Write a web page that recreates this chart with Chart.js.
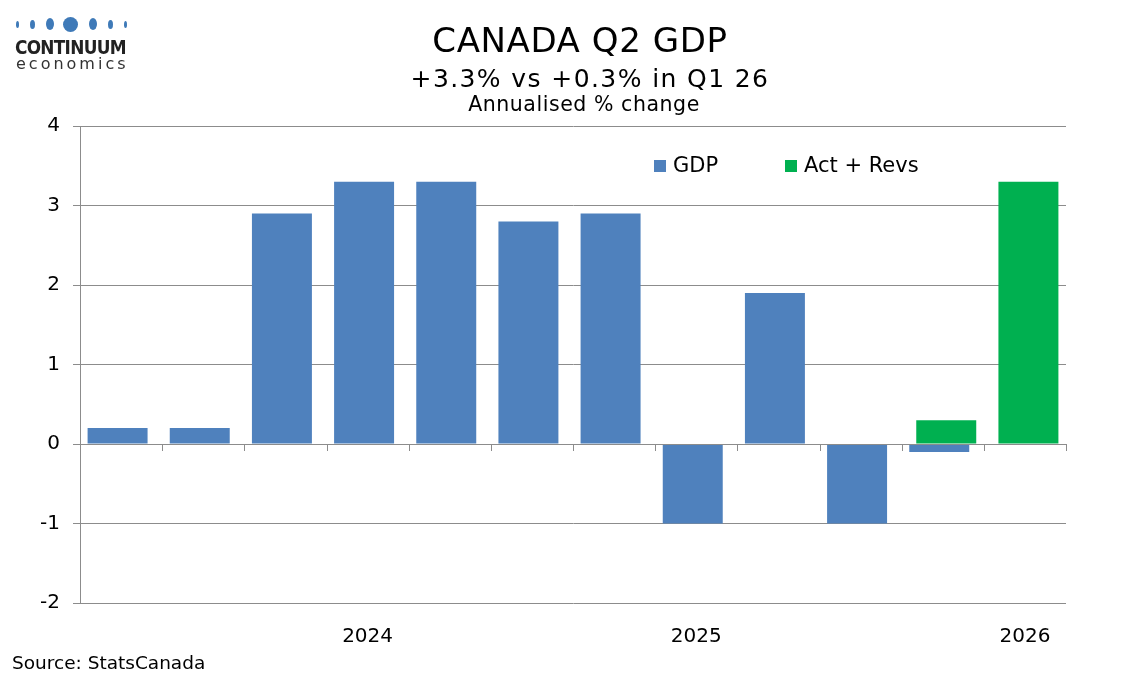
<!DOCTYPE html>
<html>
<head>
<meta charset="utf-8">
<script src="https://cdn.jsdelivr.net/npm/chart.js@4/dist/chart.umd.min.js"></script>
<style>
  html, body { margin: 0; padding: 0; background: #fff; }
  body { width: 1134px; height: 680px; position: relative; overflow: hidden; font-family: "DejaVu Sans", Verdana, sans-serif; }
  #wrap { position: absolute; left: 0; top: 0; width: 1134px; height: 680px; }
  .txt { position: absolute; white-space: nowrap; color: #000; }
  .dot { position: absolute; background: #3f7ab8; border-radius: 50%; }
</style>
</head>
<body>
<div id="wrap"><canvas id="chart" width="1134" height="680"></canvas></div>

<!-- logo -->
<div class="dot" style="left:16px;top:21px;width:3px;height:7px;"></div>
<div class="dot" style="left:30px;top:20px;width:5px;height:9px;"></div>
<div class="dot" style="left:46px;top:18px;width:8px;height:12px;"></div>
<div class="dot" style="left:63px;top:17px;width:15px;height:15px;"></div>
<div class="dot" style="left:89px;top:18px;width:8px;height:12px;"></div>
<div class="dot" style="left:108px;top:20px;width:5px;height:9px;"></div>
<div class="dot" style="left:124px;top:21px;width:3px;height:7px;"></div>
<div class="txt" style="left:15px;top:36px;font-size:19px;font-weight:bold;letter-spacing:-0.8px;color:#222;transform:scaleX(0.89);transform-origin:left top;">CONTINUUM</div>
<div class="txt" style="left:16px;top:54px;font-size:16px;letter-spacing:3px;color:#333;">economics</div>

<!-- titles -->
<div class="txt" style="left:0;width:1160px;text-align:center;top:20px;font-size:34px;letter-spacing:0.6px;">CANADA Q2 GDP</div>
<div class="txt" style="left:0;width:1180px;text-align:center;top:64px;font-size:25px;letter-spacing:1.4px;">+3.3% vs +0.3% in Q1 26</div>
<div class="txt" style="left:0;width:1168px;text-align:center;top:92px;font-size:20.5px;letter-spacing:0.55px;">Annualised % change</div>
<div class="txt" style="left:12px;top:652px;font-size:18.5px;">Source: StatsCanada</div>

<script>
// Data
const categories = ['Q2 23', 'Q3 23', 'Q4 23', 'Q1 24', 'Q2 24', 'Q3 24', 'Q4 24', 'Q1 25', 'Q2 25', 'Q3 25', 'Q4 25', 'Q1 26'];
const tickLabels = ['', '', '', '2024', '', '', '', '2025', '', '', '', '2026'];
const gdpValues = [0.2, 0.2, 2.9, 3.3, 3.3, 2.8, 2.9, -1.0, 1.9, -1.0, -0.1, null];
const actRevValues = [null, null, null, null, null, null, null, null, null, null, 0.3, 3.3];
const seriesNames = ['GDP', 'Act + Revs'];

const BLUE = '#4f81bd';
const GREEN = '#00b050';
const GRID = '#8c8c8c';

// Excel-like partial overlap: nudge each series a little off centre
const barShift = {
  id: 'barShift',
  beforeDatasetDraw(chart, args) {
    chart.ctx.save();
    chart.ctx.translate(args.index === 0 ? -3.5 : 3.5, 0);
  },
  afterDatasetDraw(chart) {
    chart.ctx.restore();
  }
};

// small ticks on the zero line at category boundaries (Excel style)
const zeroTicks = {
  id: 'zeroTicks',
  afterDatasetsDraw(chart) {
    const { ctx, chartArea, scales } = chart;
    const y0 = scales.y.getPixelForValue(0);
    const step = (chartArea.right - chartArea.left) / categories.length;
    ctx.save();
    ctx.strokeStyle = GRID;
    ctx.lineWidth = 1;
    ctx.beginPath();
    ctx.moveTo(chartArea.left, y0 + 0.5);
    ctx.lineTo(chartArea.right, y0 + 0.5);
    for (let i = 1; i <= categories.length; i++) {
      const x = Math.round(chartArea.left + i * step) + 0.5;
      ctx.moveTo(x, y0);
      ctx.lineTo(x, y0 + 7);
    }
    ctx.stroke();
    ctx.restore();
  }
};

// legend drawn inside the plot area
const innerLegend = {
  id: 'innerLegend',
  afterDraw(chart) {
    const { ctx } = chart;
    const pos = [654, 785];
    ctx.save();
    ctx.font = '21px "DejaVu Sans", Verdana, sans-serif';
    ctx.textBaseline = 'middle';
    chart.data.datasets.forEach((ds, i) => {
      ctx.fillStyle = ds.backgroundColor;
      ctx.fillRect(pos[i], 160, 12, 12);
      ctx.fillStyle = '#000';
      ctx.fillText(ds.label, pos[i] + 19, 167);
    });
    ctx.restore();
  }
};

new Chart(document.getElementById('chart'), {
  type: 'bar',
  data: {
    labels: categories,
    datasets: [
      { label: seriesNames[0], data: gdpValues, backgroundColor: BLUE, grouped: false },
      { label: seriesNames[1], data: actRevValues, backgroundColor: GREEN, grouped: false }
    ]
  },
  options: {
    responsive: false,
    animation: false,
    devicePixelRatio: 1,
    layout: { padding: { top: 126, right: 68, bottom: 27, left: 0 } },
    datasets: { bar: { barPercentage: 0.73, categoryPercentage: 1 } },
    plugins: { legend: { display: false }, tooltip: { enabled: false } },
    scales: {
      x: {
        grid: { display: false },
        border: { display: false },
        afterFit(scale) { scale.height = 50; },
        ticks: {
          autoSkip: false,
          maxRotation: 0,
          padding: 14,
          color: '#000',
          font: { family: '"DejaVu Sans", Verdana, sans-serif', size: 20 },
          callback: (v, i) => tickLabels[i]
        }
      },
      y: {
        min: -2,
        max: 4,
        afterFit(scale) { scale.width = 80; },
        grid: { color: GRID, tickLength: 7, tickColor: GRID },
        border: { color: GRID },
        ticks: {
          stepSize: 1,
          padding: 13,
          color: '#000',
          font: { family: '"DejaVu Sans", Verdana, sans-serif', size: 20 }
        }
      }
    }
  },
  plugins: [barShift, zeroTicks, innerLegend]
});
</script>
</body>
</html>
